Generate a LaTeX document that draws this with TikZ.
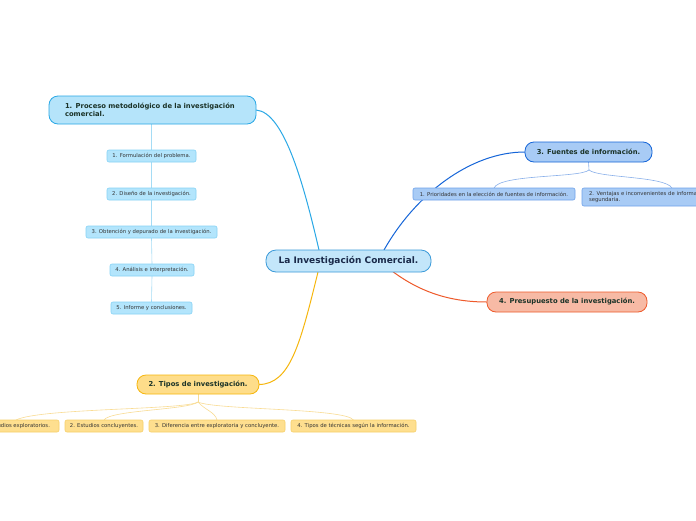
\documentclass[tikz,border=0pt]{standalone}
\usepackage{fontspec}
\setmainfont{DejaVu Sans}
\usetikzlibrary{backgrounds}
\begin{document}
\begin{tikzpicture}[x=1pt,y=-1pt,
  every node/.style={inner sep=0pt, outer sep=0pt},
  central/.style={draw=cenB, fill=cenF, line width=0.8pt, rounded corners=10pt, font=\fontsize{9}{10}\selectfont\bfseries, text=cenT},
  topic/.style={line width=0.8pt, rounded corners=9pt, font=\fontsize{6.8}{8}\selectfont\bfseries, text=topT},
  sub/.style={line width=0.6pt, rounded corners=2pt, font=\fontsize{5.3}{6.2}\selectfont, text=subT},
  conn/.style={line width=1pt},
  thin/.style={line width=0.6pt}
]
\definecolor{cenB}{HTML}{3A9AD9}
\definecolor{cenF}{HTML}{C3E6FA}
\definecolor{cenT}{HTML}{1A2A4A}
\definecolor{topT}{HTML}{1B3328}
\definecolor{subT}{HTML}{333333}
\definecolor{aB}{HTML}{2AA8E6}
\definecolor{aF}{HTML}{B5E4FA}
\definecolor{aSB}{HTML}{86D3F5}
\definecolor{aSF}{HTML}{B3E5FC}
\definecolor{aL}{HTML}{A5DCF5}
\definecolor{bB}{HTML}{1565D8}
\definecolor{bF}{HTML}{A8CBF5}
\definecolor{bSB}{HTML}{6FA2EA}
\definecolor{bL}{HTML}{8AB0EA}
\definecolor{cB}{HTML}{EE5A2B}
\definecolor{cF}{HTML}{F7BAA5}
\definecolor{dB}{HTML}{F6B60D}
\definecolor{dF}{HTML}{FEDD8A}
\definecolor{dSB}{HTML}{F6D06A}
\definecolor{dSF}{HTML}{FEDF8F}
\definecolor{dL}{HTML}{F9DC94}

\useasboundingbox (0,0) rectangle (696,520);
\begin{scope}[on background layer]
\fill[white] (0,0) rectangle (696,520);
\end{scope}

% central
\node[central, minimum width=165pt, minimum height=22pt] (cen) at (348.5,261) {La Investigación Comercial.};

% topic 1
\node[topic, draw=aB, fill=aF, minimum width=207pt, minimum height=28pt, text width=195pt, align=left] (t1) at (152.5,110) {\hspace*{10pt}1. Proceso metodológico de la investigación\\\hspace*{10pt}comercial.};
\node[sub, draw=aSB, fill=aSF, minimum width=89pt, minimum height=12pt] (s11) at (151.5,156) {1. Formulación del problema.};
\node[sub, draw=aSB, fill=aSF, minimum width=89pt, minimum height=12pt] (s12) at (151.5,194) {2. Diseño de la investigación.};
\node[sub, draw=aSB, fill=aSF, minimum width=131pt, minimum height=12pt] (s13) at (151.5,232) {3. Obtención y depurado de la investigación.};
\node[sub, draw=aSB, fill=aSF, minimum width=84pt, minimum height=12pt] (s14) at (152,270) {4. Análisis e interpretación.};
\node[sub, draw=aSB, fill=aSF, minimum width=81pt, minimum height=12pt] (s15) at (151.5,308) {5. Informe y conclusiones.};

% topic 3
\node[topic, draw=bB, fill=bF, minimum width=127pt, minimum height=20pt] (t3) at (588.5,152) {3. Fuentes de información.};
\node[sub, draw=bSB, fill=bF, minimum width=162pt, minimum height=12pt] (s31) at (494,194) {1. Prioridades en la elección de fuentes de información.};
\node[sub, draw=bSB, fill=bF, minimum width=130pt, minimum height=18pt, anchor=north west, text width=124pt, align=left] (s32) at (582,188) {\hspace*{4pt}2. Ventajas e inconvenientes de información\\\hspace*{4pt}segundaria.};

% topic 4
\node[topic, draw=cB, fill=cF, minimum width=160pt, minimum height=20pt] (t4) at (567,302) {4. Presupuesto de la investigación.};

% topic 2
\node[topic, draw=dB, fill=dF, minimum width=122pt, minimum height=19pt] (t2) at (198,384.5) {2. Tipos de investigación.};
\node[sub, draw=dSB, fill=dSF, minimum width=86pt, minimum height=12pt] (s21) at (16,426) {1. Estudios exploratorios.};
\node[sub, draw=dSB, fill=dSF, minimum width=78pt, minimum height=12pt] (s22) at (104,426) {2. Estudios concluyentes.};
\node[sub, draw=dSB, fill=dSF, minimum width=136pt, minimum height=12pt] (s23) at (217,426) {3. Diferencia entre exploratoria y concluyente.};
\node[sub, draw=dSB, fill=dSF, minimum width=125pt, minimum height=12pt] (s24) at (353.5,426) {4. Tipos de técnicas según la información.};

\coordinate (cA) at (319,250);
\coordinate (cB) at (384,250);
\coordinate (cC) at (392,271);
\coordinate (cD) at (318,272);
\coordinate (b3) at (589,170);
\coordinate (b2) at (198,402);

\begin{scope}[on background layer]
% main connectors
\draw[conn, aB] (t1.east) .. controls (285,112) and (305,190) .. (cA);
\draw[conn, bB] (cB) .. controls (415,195) and (470,152) .. (t3.west);
\draw[conn, cB] (cC) .. controls (420,292) and (450,302) .. (t4.west);
\draw[conn, dB] (cD) .. controls (300,345) and (290,384) .. (t2.east);

% topic 1 sub connectors
\draw[thin, aL] (t1.south -| s11.north) -- (s11.north);
\draw[thin, aL] (s11.south) -- (s12.north);
\draw[thin, aL] (s12.south) -- (s13.north);
\draw[thin, aL] (s13.south) -- (s14.north);
\draw[thin, aL] (s14.south) -- (s15.north);

% topic 3 sub connectors
\draw[thin, bL] (t3.south) -- (b3);
\draw[thin, bL] (b3) .. controls (580,178) and (500,174) .. (s31.north);
\draw[thin, bL] (b3) .. controls (598,178) and (665,176) .. (672,188);

% topic 2 sub connectors
\draw[thin, dL] (t2.south) -- (b2);
\draw[thin, dL] (b2) .. controls (185,410) and (40,408) .. (s21.north);
\draw[thin, dL] (b2) .. controls (188,410) and (110,410) .. (s22.north);
\draw[thin, dL] (b2) .. controls (205,410) and (215,412) .. (s23.north);
\draw[thin, dL] (b2) .. controls (215,410) and (345,408) .. (s24.north);
\end{scope}
\end{tikzpicture}
\end{document}
